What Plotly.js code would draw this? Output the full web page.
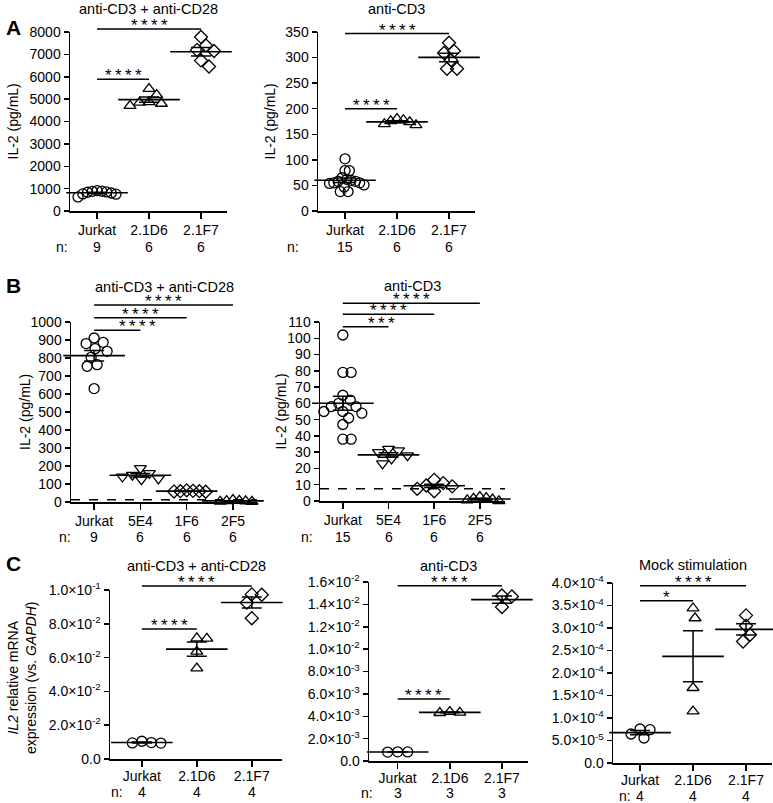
<!DOCTYPE html>
<html><head><meta charset="utf-8">
<script src="https://cdn.plot.ly/plotly-3.0.1.min.js"></script>
<style>html,body{margin:0;padding:0;background:#fff}#chart{width:773px;height:803px}</style>
</head><body><div id="chart"></div>
<script>
// ---------------- DATA ----------------
const catsA = ['Jurkat', '2.1D6', '2.1F7'];
const catsB = ['Jurkat', '5E4', '1F6', '2F5'];
const catsC = ['Jurkat', '2.1D6', '2.1F7'];

// IL-2 (pg/mL)
const jurkatCD3CD28 = [880, 911, 887, 837, 852, 804, 763, 754, 630];
const jurkatCD3 = [102, 79, 79, 65, 62, 60, 58, 58, 55, 55, 54, 51, 47, 38, 38];

const a1_21D6 = [5460, 5190, 4870, 4850, 4700, 4800];
const a1_21F7 = [7780, 7400, 7200, 7150, 6730, 6460];
const a2_21D6 = [180, 178, 176, 174, 170, 168];
const a2_21F7 = [313, 295, 309, 329, 278, 278];

const b1_5E4 = [188, 160, 150, 140, 130, 125];
const b1_1F6 = [65, 62, 60, 58, 57, 60];
const b1_2F5 = [12, 8, 5, 3, 2, 6];
const b2_5E4 = [32, 31, 30, 28, 26, 23];
const b2_1F6 = [13, 11, 9.5, 9, 7.5, 6];
const b2_2F5 = [2.5, 2, 1.5, 1, 0.5, 0];
const lodB1 = 12.5;
const lodB2 = 7.5;

// IL2 relative mRNA expression (vs. GAPDH)
const c1_jurkat = [0.0095, 0.0094, 0.0097, 0.0105];
const c1_21D6 = [0.0715, 0.0713, 0.0636, 0.0537];
const c1_21F7 = [0.0974, 0.0972, 0.0925, 0.0833];
const c2_jurkat = [0.00080, 0.00081, 0.00082];
const c2_21D6 = [0.00440, 0.00430, 0.00433];
const c2_21F7 = [0.01480, 0.01471, 0.01376];
const c3_jurkat = [0.74e-4, 0.556e-4, 0.644e-4, 0.756e-4];
const c3_21D6 = [3.22e-4, 3.44e-4, 1.67e-4, 1.15e-4];
const c3_21F7 = [3.28e-4, 3.05e-4, 2.85e-4, 2.70e-4];

// significance comparisons: [from, to, label]
const sigA1 = [[0, 1, '****'], [0, 2, '****']];
const sigA2 = [[0, 1, '****'], [0, 2, '****']];
const sigB1 = [[0, 1, '****'], [0, 2, '****'], [0, 3, '****']];
const sigB2 = [[0, 1, '***'], [0, 2, '****'], [0, 3, '****']];
const sigC1 = [[0, 1, '****'], [0, 2, '****']];
const sigC2 = [[0, 1, '****'], [0, 2, '****']];
const sigC3 = [[0, 1, '*'], [0, 2, '****']];

// y tick labels
const ticksC1v = [0, 0.02, 0.04, 0.06, 0.08, 0.1];
const ticksC1t = ['0.0', '2.0×10<sup>-2</sup>', '4.0×10<sup>-2</sup>', '6.0×10<sup>-2</sup>', '8.0×10<sup>-2</sup>', '1.0×10<sup>-1</sup>'];
const ticksC2v = [0, 0.002, 0.004, 0.006, 0.008, 0.010, 0.012, 0.014, 0.016];
const ticksC2t = ['0.0', '2.0×10<sup>-3</sup>', '4.0×10<sup>-3</sup>', '6.0×10<sup>-3</sup>', '8.0×10<sup>-3</sup>', '1.0×10<sup>-2</sup>', '1.2×10<sup>-2</sup>', '1.4×10<sup>-2</sup>', '1.6×10<sup>-2</sup>'];
const ticksC3v = [0, 0.5e-4, 1e-4, 1.5e-4, 2e-4, 2.5e-4, 3e-4, 3.5e-4, 4e-4];
const ticksC3t = ['0.0', '5.0×10<sup>-5</sup>', '1.0×10<sup>-4</sup>', '1.5×10<sup>-4</sup>', '2.0×10<sup>-4</sup>', '2.5×10<sup>-4</sup>', '3.0×10<sup>-4</sup>', '3.5×10<sup>-4</sup>', '4.0×10<sup>-4</sup>'];

// ---------------- LAYOUT CONFIG ----------------
const W = 773, H = 803;
const FONT = 'Liberation Sans, Arial, Helvetica, sans-serif';
const SYM = {circle: 'circle-open', up: 'triangle-up-open', down: 'triangle-down-open', diamond: 'diamond-open'};
const SIZE = {circle: 10, up: 10.5, down: 10.5, diamond: 10};

const panels = [
  {cats: catsA, groups: [jurkatCD3CD28, a1_21D6, a1_21F7], syms: ['circle', 'up', 'diamond'],
   box: [70, 227, 32, 211], xr: [-0.52, 2.5], yr: [0, 8000], dtick: 1000, stand: 0,
   title: 'anti-CD3 + anti-CD28', titleY: 9, ylab: 'IL-2 (pg/mL)', ylabX: 13, nX: 62, nY: 247,
   sig: sigA1, sigY: [5886, 8134]},
  {cats: catsA, groups: [jurkatCD3, a2_21D6, a2_21F7], syms: ['circle', 'up', 'diamond'],
   box: [318, 475, 32, 211], xr: [-0.52, 2.5], yr: [0, 350], dtick: 50, stand: 0,
   title: 'anti-CD3', titleY: 9, ylab: 'IL-2 (pg/mL)', ylabX: 270, nX: 293, nY: 247,
   sig: sigA2, sigY: [200, 347]},
  {cats: catsB, groups: [jurkatCD3CD28, b1_5E4, b1_1F6, b1_2F5], syms: ['circle', 'down', 'diamond', 'up'],
   box: [71, 257, 322, 502], xr: [-0.5, 3.52], yr: [0, 1000], dtick: 100, stand: 0,
   title: 'anti-CD3 + anti-CD28', titleY: 287, ylab: 'IL-2 (pg/mL)', ylabX: 25, nX: 65, nY: 537,
   sig: sigB1, sigY: [954, 1024, 1094], lod: lodB1},
  {cats: catsB, groups: [jurkatCD3, b2_5E4, b2_1F6, b2_2F5], syms: ['circle', 'down', 'diamond', 'up'],
   box: [320, 505, 322, 501], xr: [-0.5, 3.55], yr: [0, 110], dtick: 10, stand: 0,
   title: 'anti-CD3', titleY: 286, ylab: 'IL-2 (pg/mL)', ylabX: 280, nX: 307, nY: 537,
   sig: sigB2, sigY: [107.1, 114.7, 121.5], lod: lodB2},
  {cats: catsC, groups: [c1_jurkat, c1_21D6, c1_21F7], syms: ['circle', 'up', 'diamond'],
   box: [110, 282, 590, 759], xr: [-0.58, 2.55], yr: [0, 0.1], tv: ticksC1v, tt: ticksC1t, stand: -2,
   title: 'anti-CD3 + anti-CD28', titleY: 566, nX: 117, nY: 792,
   sig: sigC1, sigY: [0.0769, 0.1024]},
  {cats: catsC, groups: [c2_jurkat, c2_21D6, c2_21F7], syms: ['circle', 'up', 'diamond'],
   box: [369, 528, 582, 761], xr: [-0.55, 2.5], yr: [0, 0.016], tv: ticksC2v, tt: ticksC2t, stand: -2,
   title: 'anti-CD3', titleY: 566, nX: 367, nY: 793,
   sig: sigC2, sigY: [0.00554, 0.01567]},
  {cats: catsC, groups: [c3_jurkat, c3_21D6, c3_21F7], syms: ['circle', 'up', 'diamond'],
   box: [613, 772, 583, 763], xr: [-0.51, 2.49], yr: [0, 4e-4], tv: ticksC3v, tt: ticksC3t, stand: -2,
   title: 'Mock stimulation', titleY: 565, nX: 625, nY: 796,
   sig: sigC3, sigY: [3.607e-4, 3.94e-4]}
];

// ---------------- HELPERS ----------------
const px = x => x / W;
const py = y => 1 - y / H;
const mean = a => a.reduce((s, v) => s + v, 0) / a.length;
const sem = a => {
  const m = mean(a);
  const v = a.reduce((s, x) => s + (x - m) * (x - m), 0) / (a.length - 1);
  return Math.sqrt(v / a.length);
};

function swarm(vals, pxPerY, D, maxHalf) {
  const order = vals.map((v, i) => i).sort((a, b) => vals[b] - vals[a]);
  const off = new Array(vals.length).fill(0);
  const placed = [];
  for (const i of order) {
    const y = vals[i] * pxPerY;
    for (let k = 0; k < 400; k++) {
      const cand = k === 0 ? 0 : (k % 2 === 1 ? (k + 1) / 2 : -k / 2);
      let ok = true;
      for (const j of placed) {
        const dx = cand - off[j], dy = y - vals[j] * pxPerY;
        if (dx * dx + dy * dy < D * D) { ok = false; break; }
      }
      if (ok) { off[i] = cand; break; }
    }
    placed.push(i);
  }
  const mx = Math.max(...off.map(Math.abs));
  if (mx > maxHalf) for (let i = 0; i < off.length; i++) off[i] *= maxHalf / mx;
  return off;
}

// ---------------- BUILD ----------------
const traces = [];
const shapes = [];
const annotations = [];
const layout = {
  width: W, height: H, margin: {l: 0, r: 0, t: 0, b: 0},
  paper_bgcolor: 'white', plot_bgcolor: 'white', showlegend: false,
  font: {family: FONT, size: 14, color: 'black'},
  hovermode: false
};

panels.forEach((p, pi) => {
  const s = pi === 0 ? '' : String(pi + 1);
  const xa = 'x' + s, ya = 'y' + s;
  const [x0, x1, yT, yB] = p.box;
  const pxPerX = (x1 - x0) / (p.xr[1] - p.xr[0]);
  const pxPerY = (yB - yT) / (p.yr[1] - p.yr[0]);
  const xd = v => (v - p.xr[0]) / (p.xr[1] - p.xr[0]);
  const yd = v => (v - p.yr[0]) / (p.yr[1] - p.yr[0]);

  layout['xaxis' + s] = {
    domain: [px(x0), px(x1)], range: p.xr, anchor: ya,
    tickmode: 'array', tickvals: p.cats.map((c, i) => i), ticktext: p.cats,
    showline: true, linecolor: 'black', linewidth: 1.5, mirror: false,
    ticks: 'outside', ticklen: 6, tickwidth: 1.5, tickcolor: 'black', ticklabelstandoff: p.stand,
    showgrid: false, zeroline: false, fixedrange: true,
    tickfont: {family: FONT, size: 14, color: 'black'}
  };
  const yaxis = {
    domain: [py(yB), py(yT)], range: p.yr, anchor: xa,
    showline: true, linecolor: 'black', linewidth: 1.5,
    ticks: 'outside', ticklen: 5, tickwidth: 1.5, tickcolor: 'black',
    showgrid: false, zeroline: false, fixedrange: true,
    tickfont: {family: FONT, size: 14, color: 'black'}
  };
  if (p.tv) { yaxis.tickmode = 'array'; yaxis.tickvals = p.tv; yaxis.ticktext = p.tt; }
  else { yaxis.tickmode = 'linear'; yaxis.tick0 = 0; yaxis.dtick = p.dtick; }
  layout['yaxis' + s] = yaxis;

  // points
  p.groups.forEach((vals, gi) => {
    const sym = p.syms[gi];
    const off = swarm(vals, pxPerY, SIZE[sym] - 0.5, 19);
    traces.push({
      type: 'scatter', mode: 'markers', xaxis: xa, yaxis: ya, cliponaxis: false,
      x: vals.map((v, i) => gi + off[i] / pxPerX), y: vals,
      marker: {symbol: SYM[sym], size: SIZE[sym], color: 'black', line: {color: 'black', width: 1.3}}
    });
    // n count under each category
    annotations.push({xref: xa + ' domain', yref: 'paper', x: xd(gi), y: py(p.nY), xanchor: 'center', yanchor: 'middle',
      text: String(vals.length), showarrow: false, font: {size: 14}});
  });
  // mean + SEM
  traces.push({
    type: 'scatter', mode: 'markers', xaxis: xa, yaxis: ya, cliponaxis: false,
    x: p.groups.map((g, i) => i), y: p.groups.map(mean),
    marker: {symbol: 'line-ew', size: 44, color: 'black', line: {color: 'black', width: 1.6}},
    error_y: {type: 'data', array: p.groups.map(sem), visible: true, color: 'black', thickness: 1.5, width: 10}
  });

  // LOD dashed line
  if (p.lod !== undefined) {
    shapes.push({type: 'line', xref: xa + ' domain', yref: ya + ' domain', x0: 0, x1: 1, y0: yd(p.lod), y1: yd(p.lod),
      line: {color: 'black', width: 1.5, dash: 'dash'}});
  }
  // significance bars
  p.sig.forEach((c, ci) => {
    const lvl = p.sigY[ci];
    shapes.push({type: 'line', xref: xa + ' domain', yref: ya + ' domain', x0: xd(c[0]), x1: xd(c[1]), y0: yd(lvl), y1: yd(lvl),
      line: {color: 'black', width: 1.5}});
    annotations.push({xref: xa + ' domain', yref: ya + ' domain', x: xd((c[0] + c[1]) / 2), y: yd(lvl), yanchor: 'bottom', yshift: -8,
      text: c[2].split('').join('\u2009'), showarrow: false, font: {family: FONT, size: 17, color: 'black'}});
  });

  // panel title
  annotations.push({xref: 'paper', yref: 'paper', x: px((x0 + x1) / 2), y: py(p.titleY),
    xanchor: 'center', yanchor: 'middle', text: p.title, showarrow: false, font: {size: 14.5}});
  // y title
  if (p.ylab) {
    annotations.push({xref: 'paper', yref: 'paper', x: px(p.ylabX), y: py((yT + yB) / 2),
      xanchor: 'center', yanchor: 'middle', textangle: -90, text: p.ylab, showarrow: false, font: {size: 14}});
  }
  // "n:" label
  annotations.push({xref: 'paper', yref: 'paper', x: px(p.nX), y: py(p.nY),
    xanchor: 'center', yanchor: 'middle', text: 'n:', showarrow: false, font: {size: 14}});
});

// C y title (two lines)
annotations.push({xref: 'paper', yref: 'paper', x: px(22), y: py(678), xanchor: 'center', yanchor: 'middle',
  textangle: -90, showarrow: false, font: {size: 14},
  text: '<i>IL2</i> relative mRNA<br>expression (vs. <i>GAPDH</i>)'});

// panel letters
[['A', 27], ['B', 285], ['C', 563]].forEach(([t, y]) => {
  annotations.push({xref: 'paper', yref: 'paper', x: px(14), y: py(y), xanchor: 'center', yanchor: 'middle',
    text: '<b>' + t + '</b>', showarrow: false, font: {size: 21}});
});

layout.shapes = shapes;
layout.annotations = annotations;

Plotly.newPlot('chart', traces, layout, {staticPlot: true, displayModeBar: false});
</script></body></html>
